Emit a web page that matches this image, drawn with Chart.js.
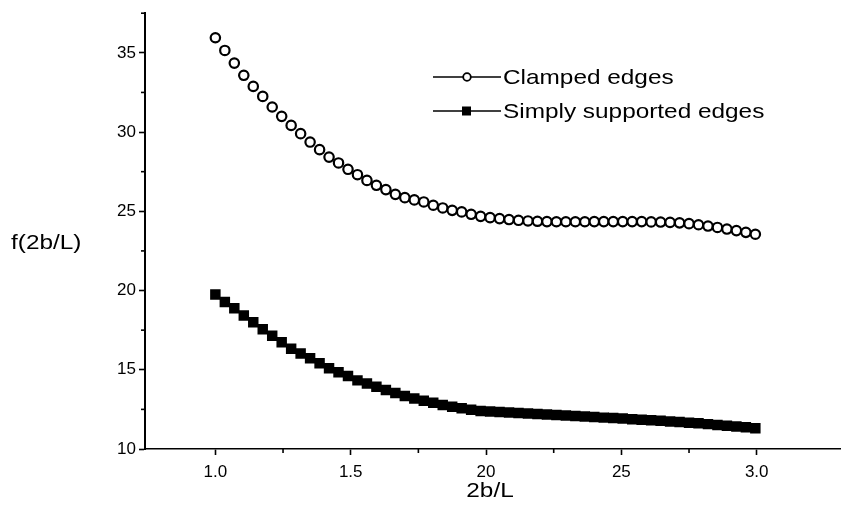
<!DOCTYPE html>
<html>
<head>
<meta charset="utf-8">
<script src="https://cdn.jsdelivr.net/npm/chart.js@4/dist/chart.umd.min.js"></script>
<style>
    html, body { margin: 0; padding: 0; background: #fff; }
    #wrap { position: relative; width: 848px; height: 516px; }
</style>
</head>
<body>
<div id="wrap"><canvas id="curveChart"></canvas></div>
<script>
// Valores (2b/L en x)
const ratios = [
    1.000, 1.035, 1.070, 1.105, 1.140, 1.175, 1.210, 1.245, 1.280, 1.315,
    1.350, 1.385, 1.420, 1.455, 1.490, 1.525, 1.560, 1.595, 1.630, 1.665,
    1.700, 1.735, 1.770, 1.805, 1.840, 1.875, 1.910, 1.945, 1.980, 2.015,
    2.050, 2.085, 2.120, 2.155, 2.190, 2.225, 2.260, 2.295, 2.330, 2.365,
    2.400, 2.435, 2.470, 2.505, 2.540, 2.575, 2.610, 2.645, 2.680, 2.715,
    2.750, 2.785, 2.820, 2.855, 2.890, 2.925, 2.960, 2.995
];

const clampedEdges = [
    35.95, 35.15, 34.35, 33.58, 32.88, 32.25, 31.58, 30.99, 30.42, 29.90,
    29.37, 28.89, 28.42, 28.05, 27.65, 27.31, 26.95, 26.64, 26.37, 26.07,
    25.86, 25.72, 25.59, 25.38, 25.21, 25.06, 24.96, 24.81, 24.68, 24.60,
    24.54, 24.48, 24.43, 24.39, 24.37, 24.35, 24.34, 24.34, 24.34, 24.34,
    24.35, 24.35, 24.35, 24.35, 24.35, 24.35, 24.33, 24.32, 24.30, 24.27,
    24.22, 24.15, 24.07, 23.98, 23.88, 23.78, 23.67, 23.55
];

const simplySupportedEdges = [
    19.75, 19.28, 18.88, 18.43, 18.00, 17.55, 17.14, 16.74, 16.33, 16.02,
    15.72, 15.41, 15.10, 14.84, 14.60, 14.33, 14.13, 13.93, 13.72, 13.54,
    13.34, 13.18, 13.04, 12.92, 12.78, 12.67, 12.57, 12.47, 12.40, 12.37,
    12.33, 12.30, 12.27, 12.24, 12.21, 12.18, 12.15, 12.12, 12.08, 12.05,
    12.02, 11.98, 11.95, 11.92, 11.88, 11.85, 11.82, 11.78, 11.74, 11.70,
    11.66, 11.62, 11.57, 11.52, 11.47, 11.42, 11.37, 11.31
];

const seriesNames = ['Clamped edges', 'Simply supported edges'];

// Marcas de los ejes
const xTickValues = [1.0, 1.5, 2.0, 2.5, 3.0];
const xTickLabels = ['1.0', '1.5', '20', '25', '3.0'];
const xMinorTicks = [1.25, 1.75, 2.25, 2.75];
const yTickValues = [10, 15, 20, 25, 30, 35];
const yTickLabels = ['10', '15', '20', '25', '30', '35'];
const yMinorTicks = [12.5, 17.5, 22.5, 27.5, 32.5, 37.5];

const FONT = "'Liberation Sans', Arial, sans-serif";
const STRETCH = 1.16;

function stretchedText(ctx, text, x, y, size, align) {
    ctx.save();
    ctx.translate(x, y);
    ctx.scale(STRETCH, 1);
    ctx.font = size + 'px ' + FONT;
    ctx.fillStyle = '#000';
    ctx.textAlign = align;
    ctx.textBaseline = 'middle';
    ctx.fillText(text, 0, 0);
    ctx.restore();
}

function segment(ctx, x1, y1, x2, y2) {
    ctx.beginPath();
    ctx.moveTo(x1, y1);
    ctx.lineTo(x2, y2);
    ctx.stroke();
}

// Marcas menores, títulos de ejes y leyenda
const decorations = {
    id: 'decorations',
    afterDraw(chart) {
        const { ctx, chartArea } = chart;
        const x = chart.scales.x;
        const y = chart.scales.y;
        ctx.save();
        ctx.strokeStyle = '#000';
        ctx.lineWidth = 1.6;
        xMinorTicks.forEach(v => {
            const px = x.getPixelForValue(v);
            segment(ctx, px, chartArea.bottom, px, chartArea.bottom + 4);
        });
        yMinorTicks.forEach(v => {
            const py = y.getPixelForValue(v);
            segment(ctx, chartArea.left - 4, py, chartArea.left, py);
        });

        stretchedText(ctx, 'f(2b/L)', 11, 243, 21, 'left');
        stretchedText(ctx, '2b/L', 490, 491, 21, 'center');

        // leyenda
        const rows = [77, 111];
        ctx.lineWidth = 1.5;
        rows.forEach(ry => segment(ctx, 433, ry, 501, ry));
        ctx.fillStyle = '#fff';
        ctx.lineWidth = 1.8;
        ctx.beginPath();
        ctx.arc(467, rows[0], 3.8, 0, Math.PI * 2);
        ctx.fill();
        ctx.stroke();
        ctx.fillStyle = '#000';
        ctx.fillRect(462, rows[1] - 4.5, 9, 9);
        stretchedText(ctx, seriesNames[0], 503, rows[0] + 1, 21, 'left');
        stretchedText(ctx, seriesNames[1], 503, rows[1] + 1, 21, 'left');
        ctx.restore();
    }
};

function initChart() {
    const ctx = document.getElementById('curveChart').getContext('2d');
    new Chart(ctx, {
        type: 'scatter',
        data: {
            datasets: [
                {
                    label: seriesNames[0],
                    data: ratios.map((r, i) => ({ x: r, y: clampedEdges[i] })),
                    pointStyle: 'circle',
                    pointRadius: 4.7,
                    pointBorderWidth: 2.2,
                    borderColor: '#000',
                    backgroundColor: '#fff',
                    showLine: false
                },
                {
                    label: seriesNames[1],
                    data: ratios.map((r, i) => ({ x: r, y: simplySupportedEdges[i] })),
                    pointStyle: 'rect',
                    pointRadius: 7.4,
                    pointBorderWidth: 0,
                    borderColor: '#000',
                    backgroundColor: '#000',
                    showLine: false
                }
            ]
        },
        options: {
            responsive: true,
            maintainAspectRatio: false,
            animation: false,
            layout: { padding: { top: 8, right: 0, left: 0, bottom: 0 } },
            plugins: {
                legend: { display: false },
                tooltip: { enabled: false }
            },
            scales: {
                x: {
                    type: 'linear',
                    min: 0.74,
                    max: 3.31,
                    afterBuildTicks: s => { s.ticks = xTickValues.map(v => ({ value: v })); },
                    afterFit: s => { s.height = 67; },
                    ticks: {
                        callback: v => xTickLabels[xTickValues.indexOf(v)],
                        color: '#000',
                        font: { family: FONT, size: 17 },
                        padding: 7,
                        maxRotation: 0
                    },
                    grid: {
                        drawOnChartArea: false,
                        drawTicks: true,
                        tickLength: 6,
                        tickColor: '#000',
                        tickWidth: 1.6
                    },
                    border: { display: true, color: '#000', width: 1.6 }
                },
                y: {
                    min: 10,
                    max: 37.5,
                    afterBuildTicks: s => { s.ticks = yTickValues.map(v => ({ value: v })); },
                    afterFit: s => { s.width = 145; },
                    ticks: {
                        callback: v => yTickLabels[yTickValues.indexOf(v)],
                        color: '#000',
                        font: { family: FONT, size: 17 },
                        padding: 3
                    },
                    grid: {
                        drawOnChartArea: false,
                        drawTicks: true,
                        tickLength: 6,
                        tickColor: '#000',
                        tickWidth: 1.6
                    },
                    border: { display: true, color: '#000', width: 2 }
                }
            }
        },
        plugins: [decorations]
    });
}

document.addEventListener('DOMContentLoaded', initChart);
</script>
</body>
</html>
